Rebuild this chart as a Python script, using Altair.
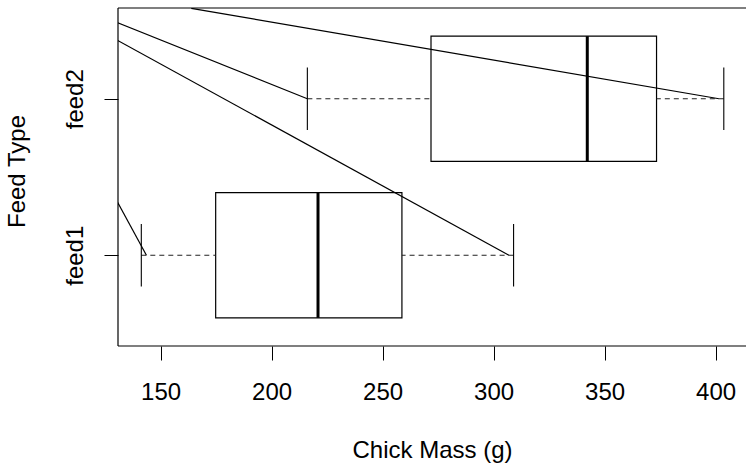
import altair as alt
import pandas as pd

groups = ["feed1", "feed2"]
positions = [1, 2]
whisker_low = [141.3, 216.1]
q1 = [174.8, 271.8]
median = [220.9, 342.2]
q3 = [258.7, 373.4]
whisker_high = [309.0, 403.7]

# straight line segments drawn over the plot
seg_x1 = [130.4, 130.4, 130.4, 163.8]
seg_y1 = [1.345, 2.487, 2.375, 2.578]
seg_x2 = [143.6, 216.1, 306.9, 401.5]
seg_y2 = [1.0, 2.0, 1.0, 2.0]

x_ticks = [150, 200, 250, 300, 350, 400]
x_domain = [130.8, 413.7]
y_domain = [0.42, 2.58]

FONT = "Liberation Sans"
FS = 24
W, H = 628, 338

box_df = pd.DataFrame({
    "group": groups, "pos": positions, "lo": whisker_low, "q1": q1,
    "med": median, "q3": q3, "hi": whisker_high,
})
seg_df = pd.DataFrame({"x1": seg_x1, "y1": seg_y1, "x2": seg_x2, "y2": seg_y2})

xs = alt.Scale(domain=x_domain, nice=False, zero=False)
ys = alt.Scale(domain=y_domain, nice=False, zero=False)

label_expr = "[" + ",".join("'" + g + "'" for g in groups) + "][datum.value - 1]"

x_axis = alt.Axis(values=x_ticks, tickSize=14, tickColor="black", tickWidth=1,
                  labelFont=FONT, labelFontSize=FS, labelColor="black",
                  labelBaseline="alphabetic", labelPadding=39, labelFlush=False,
                  labelOverlap=False, domain=False, grid=False,
                  title="Chick Mass (g)", titleFont=FONT, titleFontSize=FS,
                  titleFontWeight="normal", titleColor="black",
                  titleBaseline="alphabetic", titleY=111)
y_axis = alt.Axis(values=positions, labelExpr=label_expr, tickSize=14,
                  tickColor="black", tickWidth=1, labelFont=FONT, labelFontSize=FS,
                  labelColor="black", labelAngle=270, labelAlign="center",
                  labelBaseline="alphabetic", labelPadding=22, domain=False, grid=False,
                  title="Feed Type", titleFont=FONT, titleFontSize=FS,
                  titleFontWeight="normal", titleColor="black", titleAngle=270,
                  titleAlign="center", titleBaseline="alphabetic", titleX=-94, titleY=163)

base = alt.Chart(box_df).transform_calculate(
    b_lo="datum.pos - 0.4", b_hi="datum.pos + 0.4",
    c_lo="datum.pos - 0.2", c_hi="datum.pos + 0.2",
)

boxes = base.mark_rect(fillOpacity=0, stroke="black", strokeWidth=1.2).encode(
    x=alt.X("q1:Q", scale=xs, axis=x_axis), x2="q3:Q",
    y=alt.Y("b_lo:Q", scale=ys, axis=y_axis), y2="b_hi:Q",
)
medians = base.mark_rule(color="black", strokeWidth=3).encode(
    x="med:Q", y="b_lo:Q", y2="b_hi:Q")
wl = base.mark_rule(color="#222", strokeWidth=1.1, strokeDash=[5, 4]).encode(
    x="lo:Q", x2="q1:Q", y="pos:Q")
wh = base.mark_rule(color="#222", strokeWidth=1.1, strokeDash=[5, 4]).encode(
    x="hi:Q", x2="q3:Q", y="pos:Q")
cl = base.mark_rule(color="black", strokeWidth=1.1).encode(
    x="lo:Q", y="c_lo:Q", y2="c_hi:Q")
ch = base.mark_rule(color="black", strokeWidth=1.1).encode(
    x="hi:Q", y="c_lo:Q", y2="c_hi:Q")

segs = alt.Chart(seg_df).mark_rule(color="black", strokeWidth=1.2, clip=True).encode(
    x=alt.X("x1:Q", scale=xs), x2="x2:Q",
    y=alt.Y("y1:Q", scale=ys), y2="y2:Q",
)

# plot frame: left, top and bottom sides (right side lies beyond the picture)
frame_df = pd.DataFrame({"k": [0]})
fr = alt.Chart(frame_df)
f_left = fr.mark_rule(color="black", strokeWidth=1.2).encode(
    x=alt.value(0), y=alt.value(0), y2=alt.value(H))
f_top = fr.mark_rule(color="black", strokeWidth=1.2).encode(
    x=alt.value(0), x2=alt.value(W + 2), y=alt.value(0))
f_bot = fr.mark_rule(color="black", strokeWidth=1.2).encode(
    x=alt.value(0), x2=alt.value(W + 2), y=alt.value(H))

chart = alt.layer(boxes, medians, wl, wh, cl, ch, segs, f_left, f_top, f_bot).properties(
    width=W, height=H,
    autosize=alt.AutoSizeParams(type="none"),
    padding={"left": 118, "top": 8, "right": 0, "bottom": 117},
    background="white",
).configure_view(strokeOpacity=0)

chart.save("out.html", embed_options={"renderer": "svg", "actions": False})
